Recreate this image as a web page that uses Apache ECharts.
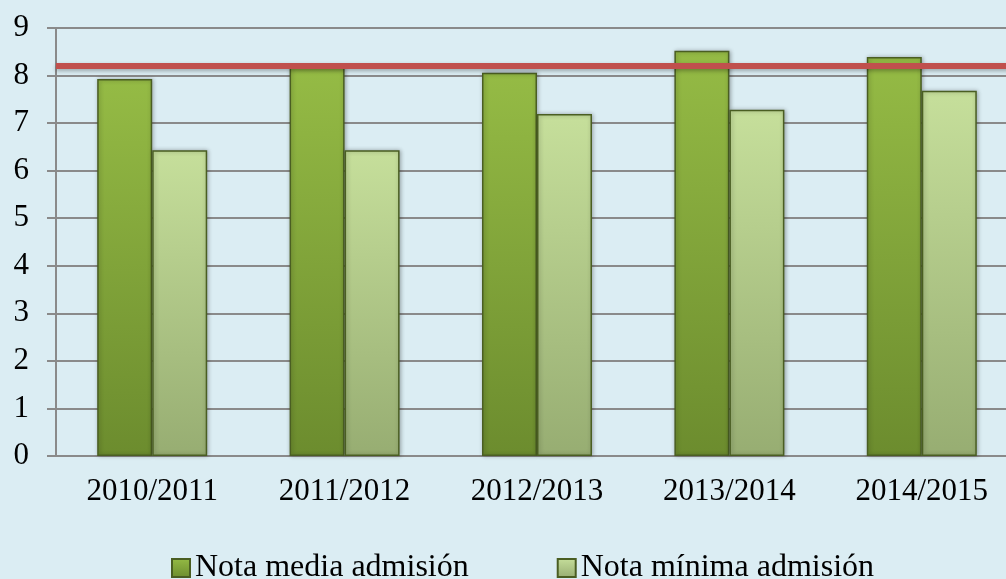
<!DOCTYPE html>
<html>
<head>
<meta charset="utf-8">
<script src="https://cdn.jsdelivr.net/npm/echarts@6/dist/echarts.min.js"></script>
<style>
  html, body { margin: 0; padding: 0; background: #dbedf3; }
  #chart { width: 1006px; height: 579px; }
</style>
</head>
<body>
<div id="chart"></div>
<script>
// cursos académicos
const categories = ['2010/2011', '2011/2012', '2012/2013', '2013/2014', '2014/2015']
// nota media / mínima de admisión
const notaMedia = [7.93, 8.17, 8.06, 8.52, 8.39]
const notaMinima = [6.43, 6.43, 7.19, 7.28, 7.68]
// línea de referencia
const referencia = 8.2

const serif = '"Liberation Serif", "DejaVu Serif", serif'

const grad = (top, bottom) => new echarts.graphic.LinearGradient(0, 0, 0, 1, [
  { offset: 0, color: top },
  { offset: 1, color: bottom }
])

const chart = echarts.init(document.getElementById('chart'))
chart.setOption({
  backgroundColor: '#dbedf3',
  animation: false,
  // el área sale un poco por la derecha, como en el original
  grid: { left: 56, width: 962, top: 28, height: 428, outerBoundsMode: 'none' },
  legend: {
    top: 547,
    left: 166,
    itemGap: 88,
    itemWidth: 18,
    itemHeight: 18,
    icon: 'rect',
    textStyle: { fontFamily: serif, fontSize: 32, color: '#000' },
    data: ['Nota media admisión', 'Nota mínima admisión']
  },
  xAxis: {
    type: 'category',
    data: categories,
    axisLine: { lineStyle: { color: '#8a8a8a', width: 2 } },
    axisTick: { length: 9, lineStyle: { color: '#8a8a8a', width: 2 } },
    axisLabel: { fontFamily: serif, fontSize: 31, color: '#000', margin: 20 }
  },
  yAxis: {
    type: 'value',
    min: 0,
    max: 9,
    interval: 1,
    axisLine: { show: true, lineStyle: { color: '#8a8a8a', width: 2 } },
    axisTick: { show: true, length: 9, lineStyle: { color: '#8a8a8a', width: 2 } },
    splitLine: { lineStyle: { color: '#8a8a8a', width: 2 } },
    axisLabel: { fontFamily: serif, fontSize: 31, color: '#000', margin: 27 }
  },
  series: [
    {
      name: 'Nota media admisión',
      type: 'bar',
      barWidth: 55,
      barGap: '0%',
      data: notaMedia,
      itemStyle: {
        color: grad('#95bb45', '#6c8c2e'),
        borderColor: '#4a5e22',
        borderWidth: 1.5,
        shadowColor: 'rgba(0,0,0,0.3)',
        shadowBlur: 4,
        shadowOffsetX: 1
      },
      markLine: {
        symbol: 'none',
        silent: true,
        label: { show: false },
        lineStyle: {
          color: '#c0504d',
          width: 6,
          type: 'solid',
          shadowColor: 'rgba(0,0,0,0.3)',
          shadowBlur: 4,
          shadowOffsetY: 2
        },
        data: [{ yAxis: referencia }]
      }
    },
    {
      name: 'Nota mínima admisión',
      type: 'bar',
      barWidth: 55,
      data: notaMinima,
      itemStyle: {
        color: grad('#c6df9b', '#97ad72'),
        borderColor: '#4a5e22',
        borderWidth: 1.5,
        shadowColor: 'rgba(0,0,0,0.3)',
        shadowBlur: 4,
        shadowOffsetX: 1
      }
    }
  ]
})
</script>
</body>
</html>
